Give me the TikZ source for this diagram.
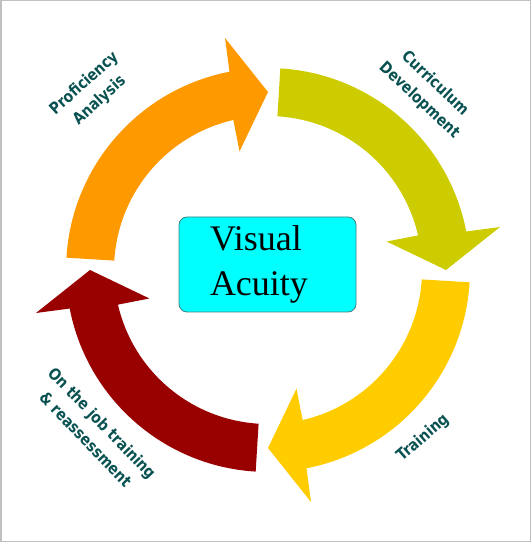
\documentclass[tikz,border=0pt]{standalone}
\usepackage{fontspec}
\setmainfont{Liberation Serif}
\newfontfamily\labelfont{DejaVu Sans}[FakeStretch=0.86]
\usepackage{tikz}

\definecolor{profcol}{HTML}{FF9900}
\definecolor{curcol}{HTML}{CCCC00}
\definecolor{traincol}{HTML}{FFCC00}
\definecolor{jobcol}{HTML}{990000}
\definecolor{labcol}{HTML}{0A5252}
\definecolor{boxfill}{HTML}{00FFFF}
\definecolor{boxline}{HTML}{3F7F80}
\definecolor{framecol}{HTML}{C0C0C0}

\begin{document}
\begin{tikzpicture}[x=1pt,y=1pt,
	steplabel/.style={text=labcol, font=\labelfont\bfseries\fontsize{16}{23}\selectfont, align=center, inner sep=0pt},
	acuitybox/.style={draw=boxline, line width=0.8pt, fill=boxfill, rounded corners=8pt, minimum width=177pt, minimum height=95pt,
		text width=115pt, inner xsep=31pt, inner ysep=0pt, align=left, font=\fontsize{36}{45}\selectfont}]
\useasboundingbox (0,0) rectangle (532,544);
\draw[framecol, line width=1.5pt] (1,543.5) rectangle (530.5,2.5);

% the four curved arrows, tip angle / colour
\begin{scope}[shift={(268,274)}]
\foreach \tip/\col in {90/profcol, 0/curcol, -90/traincol, 180/jobcol}
	\fill[\col] (\tip+86.5:202pt) arc[start angle=\tip+86.5, end angle=\tip+11, radius=202pt]
		-- (\tip+10.5:236pt) -- (\tip:178pt) -- (\tip+13.5:122pt) -- (\tip+13:154pt)
		arc[start angle=\tip+13, end angle=\tip+86.5, radius=154pt] -- cycle;
\end{scope}

\node[acuitybox] (acuity) at (267.5,279.5) {Visual\\Acuity};

\node[steplabel, rotate=42] (prof) at (92,452) {Proficiency\\Analysis};
\node[steplabel, rotate=-43] (cur) at (427,452) {Curriculum\\Development};
\node[steplabel, rotate=41] (train) at (423,106) {Training};
\node[steplabel, rotate=-46] (job) at (94,113) {On the job training\\\& reassessment};
\end{tikzpicture}
\end{document}
